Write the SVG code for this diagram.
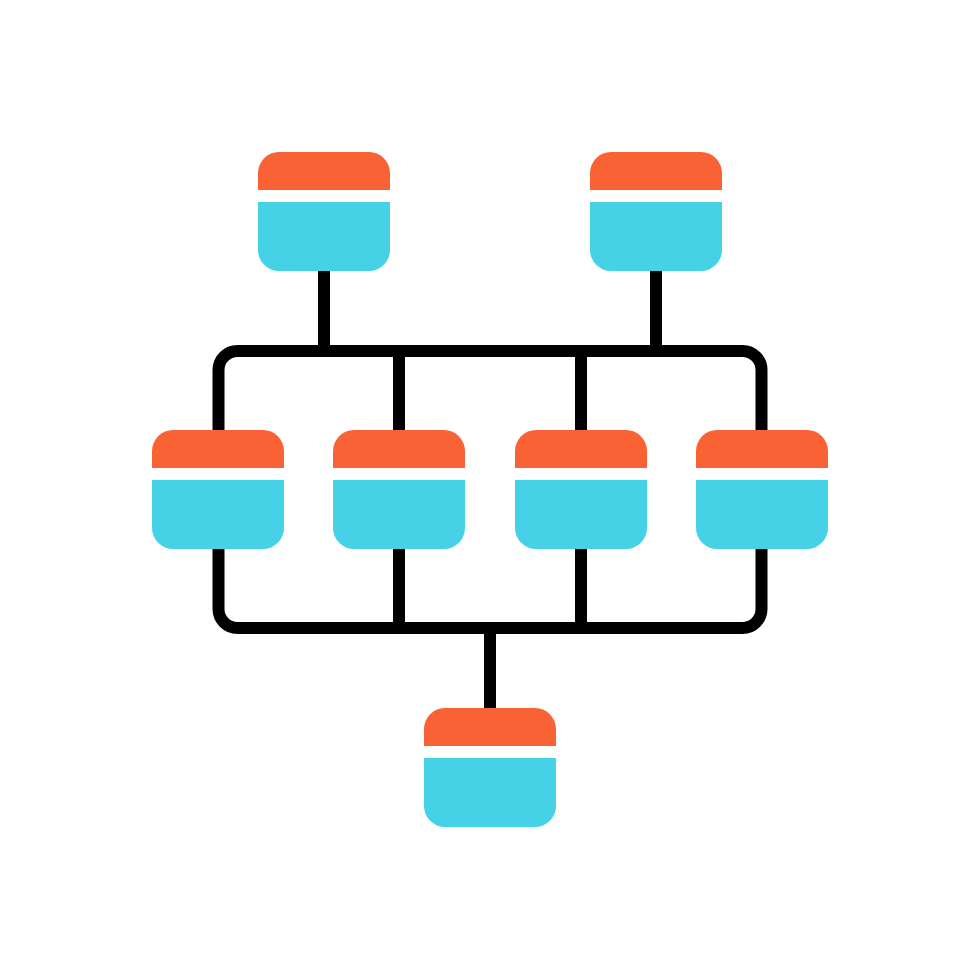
<svg xmlns="http://www.w3.org/2000/svg" xmlns:xlink="http://www.w3.org/1999/xlink" width="980" height="980" viewBox="0 0 980 980">
<style>
.top{fill:#F96235}
.bot{fill:#45D2E7}
.gap{fill:#fff}
.wire{fill:none;stroke:#000;stroke-width:12;stroke-linejoin:round}
</style>
<defs>
<g id="node">
<rect class="gap" x="0" y="37" width="132" height="14"/>
<path class="top" d="M0,38 V21 A21,21 0 0 1 21,0 H111 A21,21 0 0 1 132,21 V38 Z"/>
<path class="bot" d="M0,50 H132 V98 A21,21 0 0 1 111,119 H21 A21,21 0 0 1 0,98 Z"/>
</g>
</defs>
<rect width="980" height="980" fill="#fff"/>
<g id="connectors">
<rect class="wire" x="218.5" y="351" width="543" height="277" rx="19" ry="19"/>
<line class="wire" x1="399" y1="351" x2="399" y2="628"/>
<line class="wire" x1="581" y1="351" x2="581" y2="628"/>
<line class="wire" x1="324" y1="260" x2="324" y2="351"/>
<line class="wire" x1="656" y1="260" x2="656" y2="351"/>
<line class="wire" x1="490" y1="628" x2="490" y2="720"/>
</g>
<g id="n-top-left"><use xlink:href="#node" x="258" y="152"/></g>
<g id="n-top-right"><use xlink:href="#node" x="590" y="152"/></g>
<g id="n-mid-1"><use xlink:href="#node" x="152" y="430"/></g>
<g id="n-mid-2"><use xlink:href="#node" x="333" y="430"/></g>
<g id="n-mid-3"><use xlink:href="#node" x="515" y="430"/></g>
<g id="n-mid-4"><use xlink:href="#node" x="696" y="430"/></g>
<g id="n-bottom"><use xlink:href="#node" x="424" y="708"/></g>
</svg>
